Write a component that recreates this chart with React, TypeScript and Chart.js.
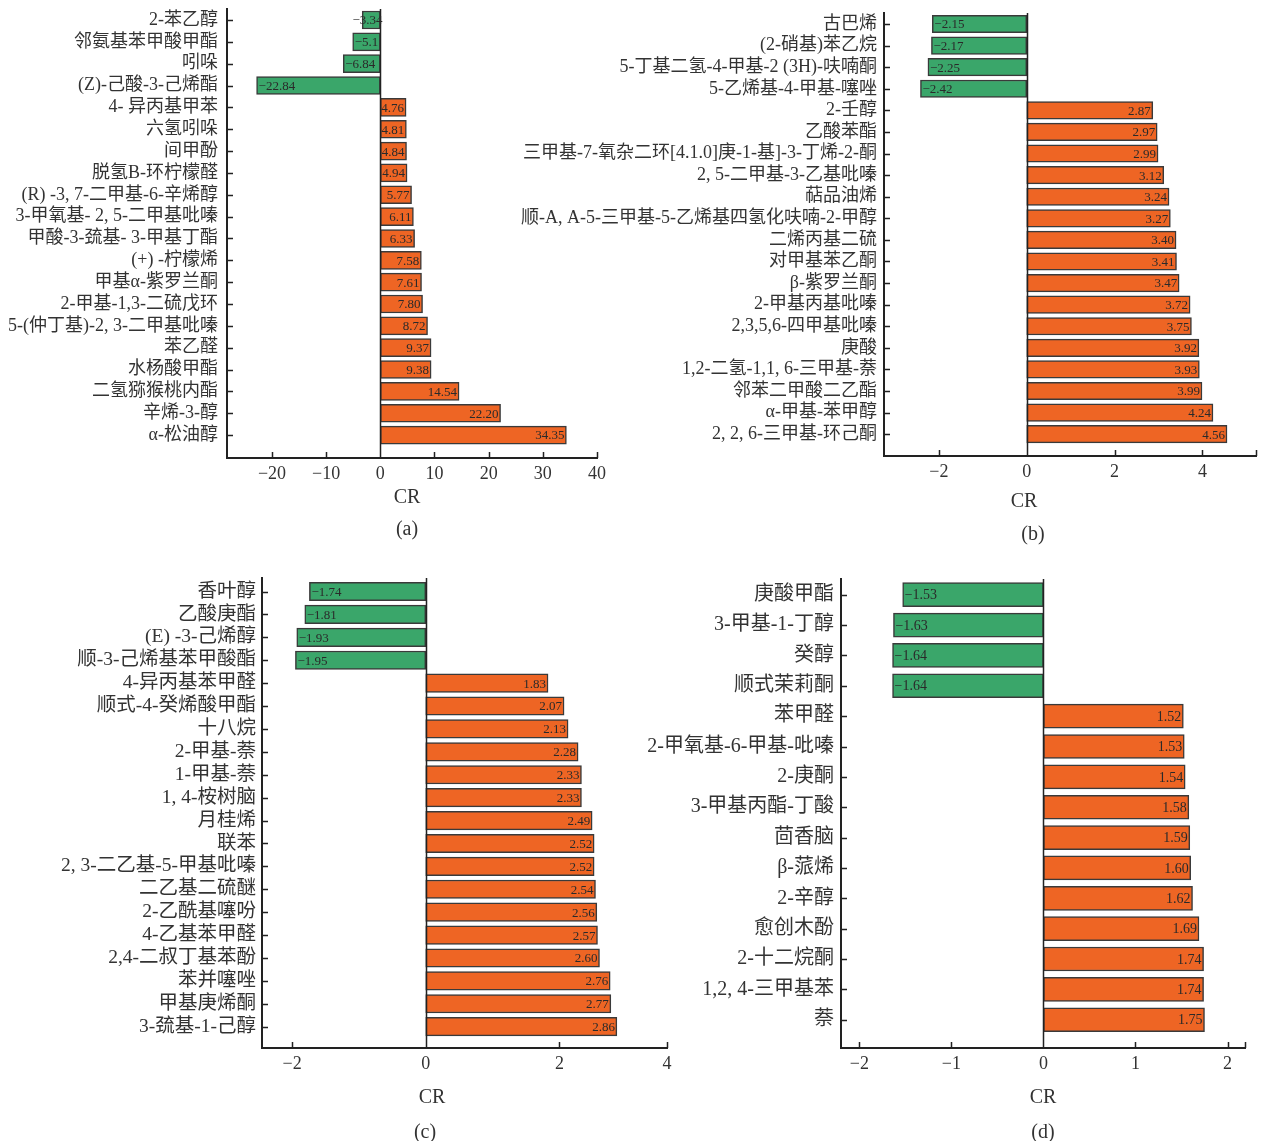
import React, { useEffect, useRef } from "react";
import { Chart, registerables } from "chart.js";

Chart.register(...registerables);

// ---------- data ----------
const aLabels = [
  "2-苯乙醇", "邻氨基苯甲酸甲酯", "吲哚", "(Z)-己酸-3-己烯酯", "4- 异丙基甲苯", "六氢吲哚", "间甲酚",
  "脱氢B-环柠檬醛", "(R) -3, 7-二甲基-6-辛烯醇", "3-甲氧基- 2, 5-二甲基吡嗪", "甲酸-3-巯基- 3-甲基丁酯",
  "(+) -柠檬烯", "甲基α-紫罗兰酮", "2-甲基-1,3-二硫戊环", "5-(仲丁基)-2, 3-二甲基吡嗪", "苯乙醛",
  "水杨酸甲酯", "二氢猕猴桃内酯", "辛烯-3-醇", "α-松油醇",
];
const aValueText = [
  "-3.34", "-5.1", "-6.84", "-22.84", "4.76", "4.81", "4.84", "4.94", "5.77", "6.11",
  "6.33", "7.58", "7.61", "7.80", "8.72", "9.37", "9.38", "14.54", "22.20", "34.35",
];
const aXTicks = [-20, -10, 0, 10, 20, 30, 40];
const aXTickText = ["−20", "−10", "0", "10", "20", "30", "40"];

const bLabels = [
  "古巴烯", "(2-硝基)苯乙烷", "5-丁基二氢-4-甲基-2 (3H)-呋喃酮", "5-乙烯基-4-甲基-噻唑", "2-壬醇", "乙酸苯酯",
  "三甲基-7-氧杂二环[4.1.0]庚-1-基]-3-丁烯-2-酮", "2, 5-二甲基-3-乙基吡嗪", "萜品油烯",
  "顺-A, A-5-三甲基-5-乙烯基四氢化呋喃-2-甲醇", "二烯丙基二硫", "对甲基苯乙酮", "β-紫罗兰酮",
  "2-甲基丙基吡嗪", "2,3,5,6-四甲基吡嗪", "庚酸", "1,2-二氢-1,1, 6-三甲基-萘", "邻苯二甲酸二乙酯",
  "α-甲基-苯甲醇", "2, 2, 6-三甲基-环己酮",
];
const bValueText = [
  "-2.15", "-2.17", "-2.25", "-2.42", "2.87", "2.97", "2.99", "3.12", "3.24", "3.27",
  "3.40", "3.41", "3.47", "3.72", "3.75", "3.92", "3.93", "3.99", "4.24", "4.56",
];
const bXTicks = [-2, 0, 2, 4, 5.22];
const bXTickText = ["−2", "0", "2", "4", ""];

const cLabels = [
  "香叶醇", "乙酸庚酯", "(E) -3-己烯醇", "顺-3-己烯基苯甲酸酯", "4-异丙基苯甲醛", "顺式-4-癸烯酸甲酯",
  "十八烷", "2-甲基-萘", "1-甲基-萘", "1, 4-桉树脑", "月桂烯", "联苯", "2, 3-二乙基-5-甲基吡嗪",
  "二乙基二硫醚", "2-乙酰基噻吩", "4-乙基苯甲醛", "2,4-二叔丁基苯酚", "苯并噻唑", "甲基庚烯酮", "3-巯基-1-己醇",
];
const cValueText = [
  "-1.74", "-1.81", "-1.93", "-1.95", "1.83", "2.07", "2.13", "2.28", "2.33", "2.33",
  "2.49", "2.52", "2.52", "2.54", "2.56", "2.57", "2.60", "2.76", "2.77", "2.86",
];
const cXTicks = [-2, 0, 2, 3.61];
const cXTickText = ["−2", "0", "2", "4"];

const dLabels = [
  "庚酸甲酯", "3-甲基-1-丁醇", "癸醇", "顺式茉莉酮", "苯甲醛", "2-甲氧基-6-甲基-吡嗪", "2-庚酮",
  "3-甲基丙酯-丁酸", "茴香脑", "β-蒎烯", "2-辛醇", "愈创木酚", "2-十二烷酮", "1,2, 4-三甲基苯", "萘",
];
const dValueText = [
  "-1.53", "-1.63", "-1.64", "-1.64", "1.52", "1.53", "1.54", "1.58", "1.59", "1.60",
  "1.62", "1.69", "1.74", "1.74", "1.75",
];
const dXTicks = [-2, -1, 0, 1, 2, 2.19];
const dXTickText = ["−2", "−1", "0", "1", "2", ""];

// ---------- styling ----------
const GREEN = "#3aa66a";
const ORANGE = "#ee6524";
const EDGE = "#3a3a3a";
const AXIS = "#222222";
const TEXT = "#333333";
const SERIF = '"Liberation Serif", "Noto Sans CJK SC", serif';

type Panel = {
  id: string;
  labels: string[];
  valueText: string[];
  xTicks: number[];
  xTickText: string[];
  xMin: number;
  xMax: number;
  yMin: number;
  yMax: number;
  left: number;
  top: number;
  width: number;
  height: number;
  padTop: number;
  padRight: number;
  yWidth: number;
  xHeight: number;
  barThickness: number;
  labelFont: number;
  labelPad: number;
  valueFont: number;
};

const panels: Panel[] = [
  {
    id: "a", labels: aLabels, valueText: aValueText, xTicks: aXTicks, xTickText: aXTickText,
    xMin: -28.3, xMax: 40, yMin: -0.504, yMax: 20.05,
    left: 0, top: 0, width: 620, height: 490, padTop: 9, padRight: 23, yWidth: 227, xHeight: 32,
    barThickness: 18, labelFont: 18, labelPad: 9, valueFont: 13,
  },
  {
    id: "b", labels: bLabels, valueText: bValueText, xTicks: bXTicks, xTickText: bXTickText,
    xMin: -3.25, xMax: 5.22, yMin: -0.51, yMax: 20.01,
    left: 500, top: 0, width: 763, height: 490, padTop: 13, padRight: 7, yWidth: 384, xHeight: 34,
    barThickness: 17.5, labelFont: 18, labelPad: 7, valueFont: 13,
  },
  {
    id: "c", labels: cLabels, valueText: cValueText, xTicks: cXTicks, xTickText: cXTickText,
    xMin: -2.45, xMax: 3.61, yMin: -0.59, yMax: 19.93,
    left: 0, top: 560, width: 700, height: 540, padTop: 18, padRight: 33, yWidth: 262, xHeight: 52,
    barThickness: 18.5, labelFont: 19.5, labelPad: 6, valueFont: 13,
  },
  {
    id: "d", labels: dLabels, valueText: dValueText, xTicks: dXTicks, xTickText: dXTickText,
    xMin: -2.2, xMax: 2.19, yMin: -0.517, yMax: 14.93,
    left: 640, top: 560, width: 623, height: 540, padTop: 19, padRight: 18, yWidth: 201, xHeight: 52,
    barThickness: 24, labelFont: 20, labelPad: 7, valueFont: 14,
  },
];

const captions = [
  { text: "CR", x: 407, y: 496 },
  { text: "(a)", x: 407, y: 528 },
  { text: "CR", x: 1024, y: 500 },
  { text: "(b)", x: 1033, y: 533 },
  { text: "CR", x: 432, y: 1096 },
  { text: "(c)", x: 425, y: 1131 },
  { text: "CR", x: 1043, y: 1096 },
  { text: "(d)", x: 1043, y: 1131 },
];

function BarPanel({ p }: { p: Panel }) {
  const ref = useRef<HTMLCanvasElement | null>(null);

  useEffect(() => {
    if (!ref.current) return;
    const values = p.valueText.map(Number);

    const decor = {
      id: "decor_" + p.id,
      afterDatasetsDraw(chart: any) {
        const { ctx, chartArea: ca, scales } = chart;
        const x = scales.x;
        const y = scales.y;
        ctx.save();
        ctx.strokeStyle = AXIS;
        ctx.lineWidth = 1.5;
        ctx.beginPath();
        const x0 = Math.round(x.getPixelForValue(0)) + 0.5;
        ctx.moveTo(x0, ca.top);
        ctx.lineTo(x0, ca.bottom);
        p.labels.forEach((_, i) => {
          const py = Math.round(y.getPixelForValue(i)) + 0.5;
          ctx.moveTo(ca.left, py);
          ctx.lineTo(ca.left + 6, py);
        });
        p.xTicks.forEach((v) => {
          const px = Math.round(x.getPixelForValue(v)) + 0.5;
          ctx.moveTo(px, ca.bottom);
          ctx.lineTo(px, ca.bottom - 6);
        });
        ctx.stroke();

        const meta = chart.getDatasetMeta(0);
        ctx.font = `${p.valueFont}px "Liberation Serif"`;
        ctx.fillStyle = "#2a2a2a";
        ctx.textBaseline = "middle";
        meta.data.forEach((el: any, i: number) => {
          const txt = p.valueText[i].replace("-", "−");
          if (values[i] >= 0) {
            ctx.textAlign = "right";
            ctx.fillText(txt, el.x - 2, el.y + 1);
          } else {
            const w = ctx.measureText(txt).width;
            ctx.textAlign = "left";
            ctx.fillText(txt, Math.min(el.x + 2, x0 - w + 2), el.y + 1);
          }
        });
        ctx.restore();
      },
    };

    const chart = new Chart(ref.current, {
      type: "bar",
      data: {
        datasets: [
          {
            data: values.map((v, i) => ({ x: v, y: i })) as any,
            backgroundColor: values.map((v) => (v < 0 ? GREEN : ORANGE)),
            borderColor: EDGE,
            borderWidth: 1.5,
            borderSkipped: false,
            barThickness: p.barThickness,
          },
        ],
      },
      options: {
        indexAxis: "y",
        responsive: false,
        maintainAspectRatio: false,
        animation: false,
        layout: { padding: { left: 0, top: p.padTop, right: p.padRight, bottom: 0 } },
        plugins: {
          legend: { display: false },
          tooltip: { enabled: false },
          title: { display: false },
        },
        scales: {
          x: {
            type: "linear",
            offset: false,
            min: p.xMin,
            max: p.xMax,
            grid: { display: false, drawTicks: false },
            border: { display: true, color: AXIS, width: 2 },
            ticks: {
              autoSkip: false,
              maxRotation: 0,
              minRotation: 0,
              padding: 5,
              color: TEXT,
              font: { family: SERIF, size: 18 },
              callback: (v: any) => {
                const k = p.xTicks.indexOf(Number(v));
                return k >= 0 ? p.xTickText[k] : "";
              },
            },
            afterBuildTicks: (s: any) => {
              s.ticks = p.xTicks.map((v) => ({ value: v }));
            },
            afterFit: (s: any) => {
              s.height = p.xHeight;
              s.paddingLeft = 0;
              s.paddingRight = 0;
            },
          } as any,
          y: {
            type: "linear",
            offset: false,
            reverse: true,
            min: p.yMin,
            max: p.yMax,
            grid: { display: false, drawTicks: false, offset: false },
            border: { display: true, color: AXIS, width: 2 },
            ticks: {
              autoSkip: false,
              padding: p.labelPad,
              color: TEXT,
              font: { family: SERIF, size: p.labelFont },
              callback: (v: any) => p.labels[Number(v)] ?? "",
            },
            afterBuildTicks: (s: any) => {
              s.ticks = p.labels.map((_, i) => ({ value: i }));
            },
            afterFit: (s: any) => {
              s.width = p.yWidth;
              s.paddingTop = 0;
              s.paddingBottom = 0;
            },
          } as any,
        },
      },
      plugins: [decor],
    });
    return () => chart.destroy();
  }, [p]);

  return (
    <canvas
      ref={ref}
      width={p.width}
      height={p.height}
      style={{ position: "absolute", left: p.left, top: p.top, width: p.width, height: p.height }}
    />
  );
}

export default function App() {
  return (
    <div style={{ position: "absolute", left: 0, top: 0, width: 1263, height: 1141, background: "#fff", overflow: "hidden" }}>
      {panels.map((p) => (
        <BarPanel key={p.id} p={p} />
      ))}
      {captions.map((c, i) => (
        <div
          key={i}
          style={{
            position: "absolute",
            left: c.x,
            top: c.y,
            transform: "translate(-50%, -50%)",
            fontFamily: SERIF,
            fontSize: 20,
            lineHeight: 1,
            color: TEXT,
            whiteSpace: "nowrap",
          }}
        >
          {c.text}
        </div>
      ))}
    </div>
  );
}
